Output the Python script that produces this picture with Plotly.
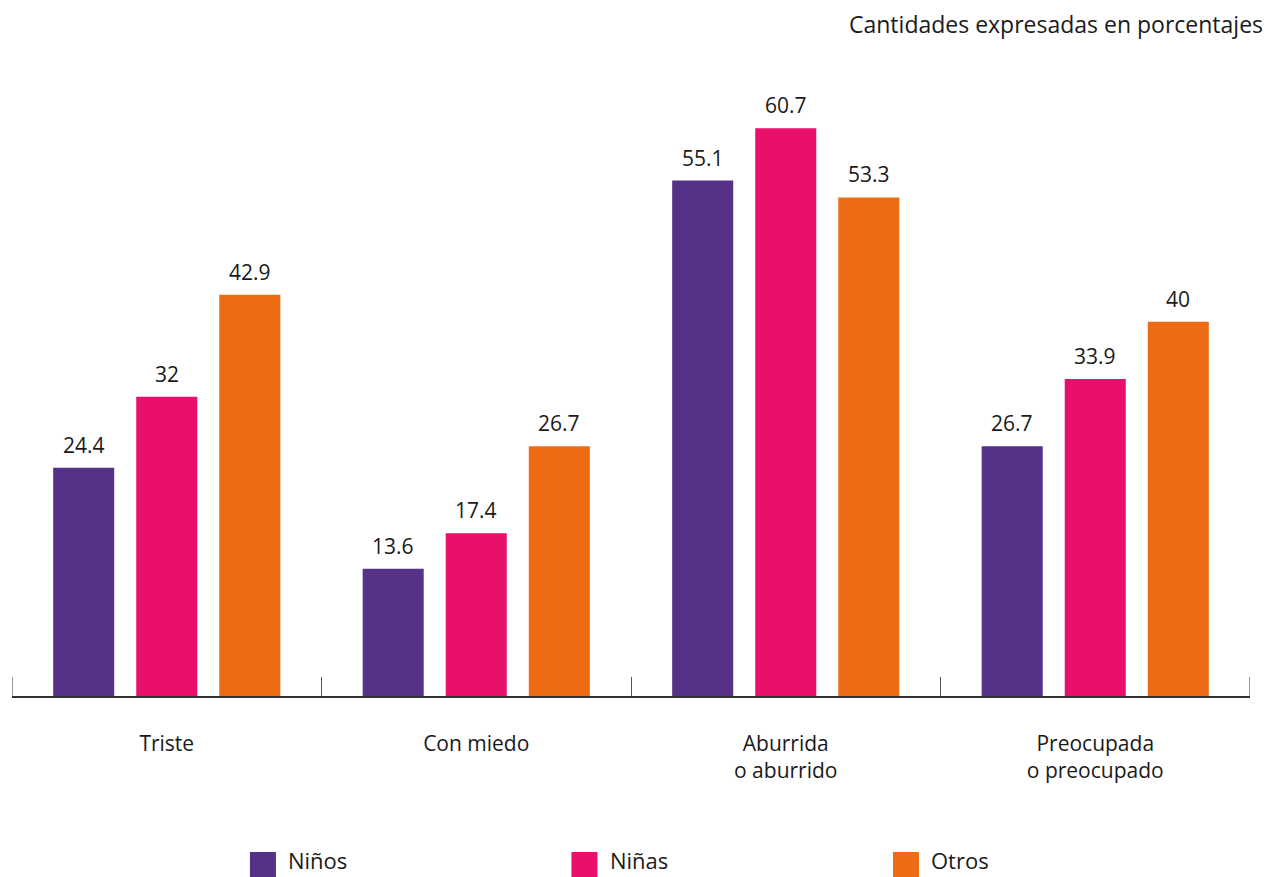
import plotly.graph_objects as go

categories = ["Triste", "Con miedo", "Aburrida<br>o aburrido", "Preocupada<br>o preocupado"]
series_names = ["Niños", "Niñas", "Otros"]
ninos = [24.4, 13.6, 55.1, 26.7]
ninas = [32, 17.4, 60.7, 33.9]
otros = [42.9, 26.7, 53.3, 40]
colors = ["#553287", "#E8106A", "#EC6B14"]

FONT = "Open Sans"
W = 400
TXT = "#1a1a1a"
fig = go.Figure()
for i, (name, vals, col) in enumerate(zip(series_names, [ninos, ninas, otros], colors)):
    fig.add_trace(go.Bar(
        x=categories, y=vals, name=name, marker=dict(color=col, line=dict(width=0)),
        showlegend=False,
    ))
    # value labels above each bar
    for cat, v in zip(categories, vals):
        fig.add_annotation(x=cat, y=v, text=f"{v:g}", showarrow=False,
                           xshift=(i - 1) * 83, yshift=7, yanchor="bottom",
                           font=dict(family=FONT, size=21, color=TXT, weight=W))

# legend drawn as swatches + labels along the bottom
for i, (name, col) in enumerate(zip(series_names, colors)):
    x0 = 0.1922 + i * 0.2597
    fig.add_shape(type="rect", xref="paper", yref="paper",
                  x0=x0, x1=x0 + 0.021, y0=-0.2977, y1=-0.2566,
                  fillcolor=col, line=dict(width=0))
    fig.add_annotation(xref="paper", yref="paper", x=x0 + 0.030, y=-0.2697,
                       text=name, showarrow=False, xanchor="left", yanchor="middle",
                       borderpad=0,
                       font=dict(family=FONT, size=22, color=TXT, weight=W))

fig.add_annotation(xref="paper", yref="paper", x=1.012, y=1.105,
                   text="Cantidades expresadas en porcentajes", showarrow=False,
                   xanchor="right", yanchor="middle",
                   font=dict(family=FONT, size=23, color=TXT, weight=W))

# tick marks at the outer ends of the axis
for xb in (-0.5, len(categories) - 0.5):
    fig.add_shape(type="line", xref="x", yref="paper", x0=xb, x1=xb, y0=0, y1=19 / 608,
                  line=dict(color="#555", width=1.2))

fig.update_layout(
    width=1269, height=877,
    margin=dict(l=12, r=19, t=88, b=181),
    plot_bgcolor="white", paper_bgcolor="white",
    barmode="group", bargap=0.195, bargroupgap=0.265,
    xaxis=dict(showline=True, linecolor="#333", linewidth=1.5,
               ticks="inside", tickson="boundaries", ticklen=19, tickcolor="#555", tickwidth=1.2,
               ticklabelstandoff=28, range=[-0.5, 3.5],
               tickfont=dict(family=FONT, size=21, color=TXT, weight=W), showgrid=False),
    yaxis=dict(range=[0, 65], visible=False, showgrid=False),
)

fig.write_html("out.html")
